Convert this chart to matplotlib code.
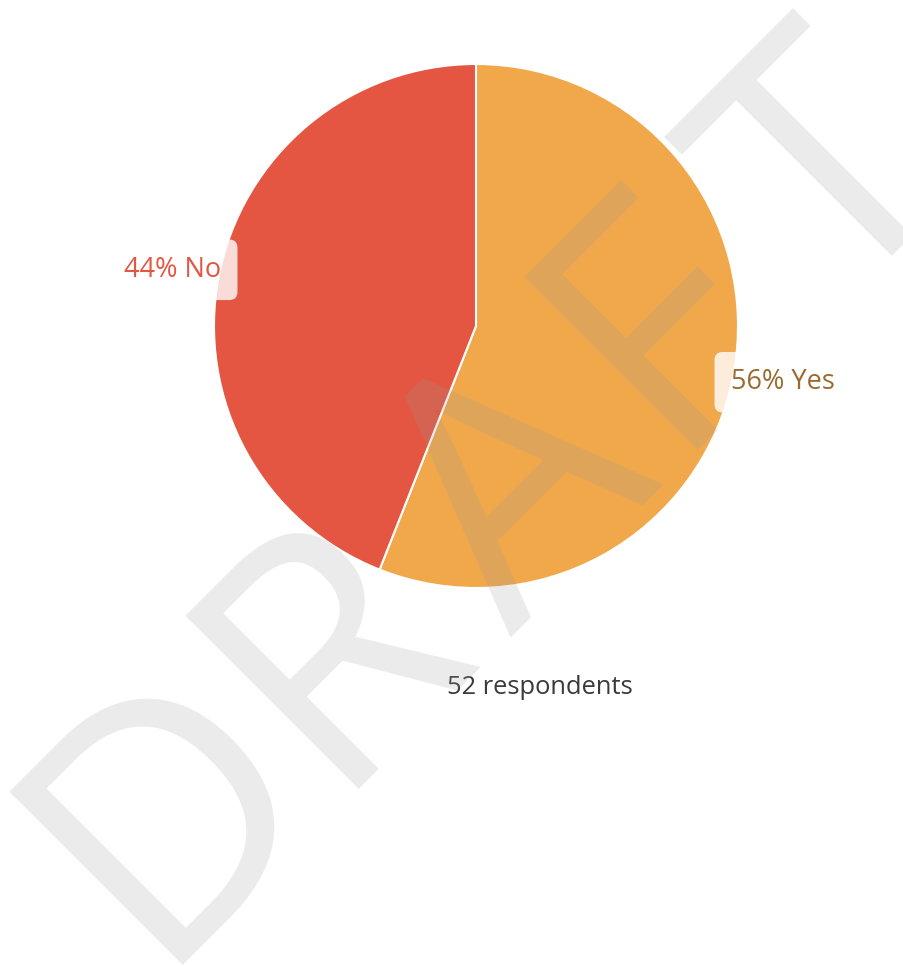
import numpy as np
import matplotlib
matplotlib.use("Agg")
import matplotlib.pyplot as plt
from matplotlib.font_manager import get_font, findfont, FontProperties
from matplotlib.backends.backend_agg import get_hinting_flag

# Survey answers (percent of respondents)
labels = ["Yes", "No"]
shares = [56, 44]
respondents = 52

slice_colors = ["#F0A84B", "#E45641"]
label_colors = ["#9A6A30", "#E45641"]

watermark = "DRAFT"

plt.rcParams["font.family"] = ["Open Sans", "DejaVu Sans"]

W, H = 904, 966
fig = plt.figure(figsize=(W / 100, H / 100), dpi=100)
fig.patch.set_facecolor("white")

# pie axes: centre (476, 326) px, radius 262 px
cx, cy, r = 476, 326, 262
ax = fig.add_axes([(cx - r) / W, 1 - (cy + r) / H, 2 * r / W, 2 * r / H])

wedges, _ = ax.pie(shares, colors=slice_colors, startangle=90, counterclock=False,
                   radius=1.0, center=(0, 0),
                   wedgeprops=dict(edgecolor="white", linewidth=1.5))
ax.set_xlim(-1, 1)
ax.set_ylim(-1, 1)
ax.set_aspect("equal")
ax.axis("off")

# slice labels at the rim, on the slice mid-angle
for w, lab, val, col in zip(wedges, labels, shares, label_colors):
    mid = np.deg2rad((w.theta1 + w.theta2) / 2)
    x, y = np.cos(mid), np.sin(mid)
    ha = "left" if x > 0 else "right"
    ax.text(x * 0.99, y * 1.145, f"{val}% {lab}", ha=ha, va="center",
            fontsize=19.5, color=col, zorder=5,
            bbox=dict(boxstyle="round,pad=0.6,rounding_size=0.3",
                      facecolor=(1, 1, 1, 0.8), edgecolor="none"))

fig.text(540 / W, 1 - 687 / H, f"{respondents} respondents", ha="center", va="center",
         fontsize=18.4, color="#3a3a3a")

# DRAFT watermark: letters set along a 45 degree baseline
wm_size = 247
letter_offsets = [0, 249, 464, 728, 926]   # px along the baseline, per letter
start_x, start_y = 183, 965                # baseline start, px from top-left
c = np.cos(np.deg2rad(45))

wm_font = get_font(findfont(FontProperties(family="Open Sans")))
for ch, d in zip(watermark, letter_offsets):
    # Agg shifts a glyph bitmap by its left bearing along the screen x axis
    wm_font.clear()
    wm_font.set_size(wm_size, fig.dpi)
    wm_font.set_text(ch, 0.0, flags=get_hinting_flag())
    lsb = wm_font.get_bitmap_offset()[0] / 64.0
    px = start_x + d * c - lsb
    py = start_y - d * c
    fig.text(px / W, 1 - py / H, ch, rotation=45, rotation_mode="anchor",
             ha="left", va="baseline", fontsize=wm_size, color="#999999",
             alpha=0.2, zorder=20)

fig.savefig("out.png", dpi=100, facecolor="white")
